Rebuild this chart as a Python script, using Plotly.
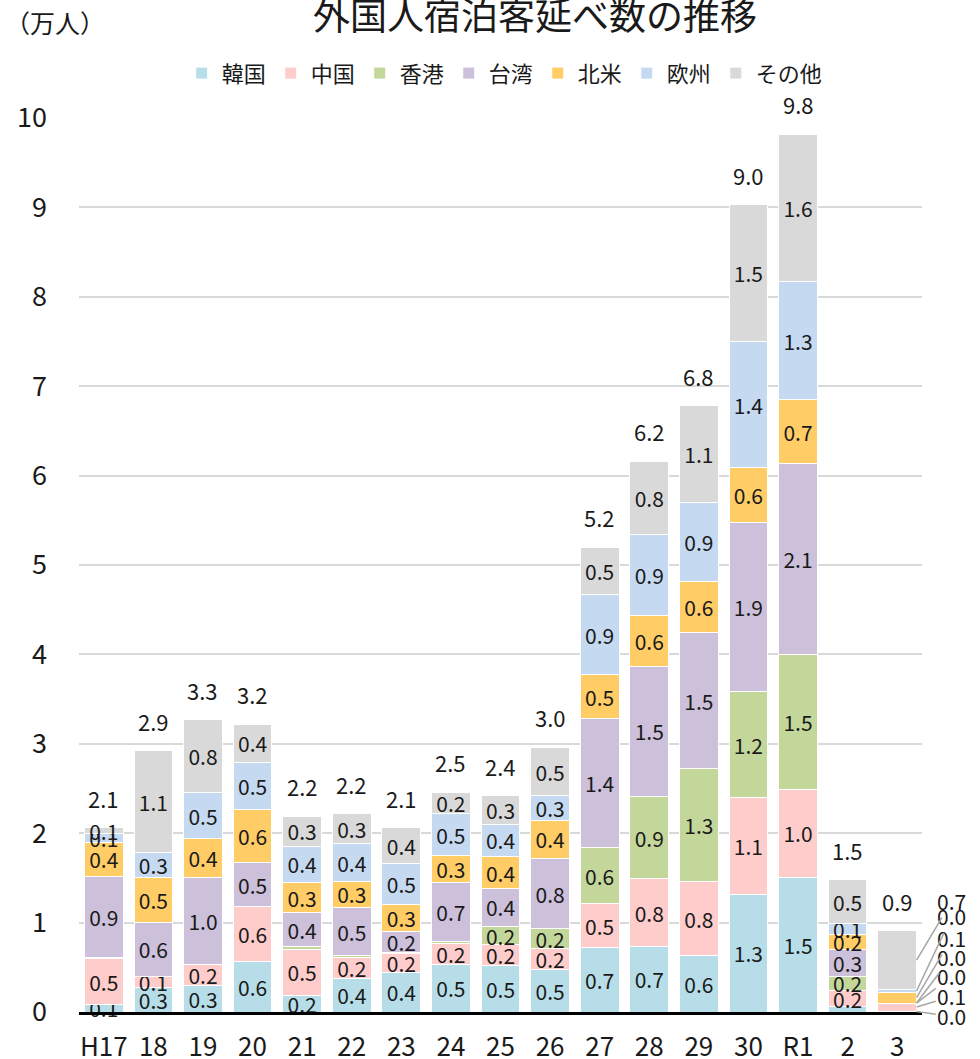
import plotly.graph_objects as go

# 年度（H17〜R3）
years = ["H17", "18", "19", "20", "21", "22", "23", "24", "25", "26",
         "27", "28", "29", "30", "R1", "2", "3"]

# 国・地域別 外国人宿泊客延べ数（万人）
korea = [0.08, 0.27, 0.30, 0.57, 0.19, 0.37, 0.44, 0.53, 0.52, 0.47,
         0.72, 0.73, 0.63, 1.31, 1.51, 0.06, 0.01]
china = [0.52, 0.13, 0.23, 0.61, 0.51, 0.24, 0.21, 0.24, 0.23, 0.24,
         0.49, 0.76, 0.83, 1.09, 0.98, 0.18, 0.09]
hongkong = [0.01, 0.00, 0.00, 0.00, 0.03, 0.02, 0.02, 0.02, 0.21, 0.22,
            0.63, 0.92, 1.26, 1.18, 1.51, 0.16, 0.00]
taiwan = [0.91, 0.60, 0.98, 0.49, 0.38, 0.54, 0.23, 0.66, 0.42, 0.79,
          1.44, 1.46, 1.52, 1.90, 2.13, 0.30, 0.00]
namerica = [0.38, 0.50, 0.43, 0.59, 0.34, 0.29, 0.30, 0.30, 0.36, 0.42,
            0.49, 0.57, 0.57, 0.61, 0.72, 0.17, 0.12]
europe = [0.10, 0.28, 0.51, 0.53, 0.40, 0.42, 0.46, 0.47, 0.36, 0.28,
          0.90, 0.90, 0.89, 1.41, 1.32, 0.12, 0.03]
other = [0.06, 1.14, 0.82, 0.43, 0.34, 0.34, 0.40, 0.24, 0.32, 0.54,
         0.53, 0.82, 1.08, 1.53, 1.65, 0.49, 0.66]

series = [
    ("韓国", korea, "#b7dee8"),
    ("中国", china, "#ffcccc"),
    ("香港", hongkong, "#c4d79b"),
    ("台湾", taiwan, "#ccc0da"),
    ("北米", namerica, "#ffcc66"),
    ("欧州", europe, "#c5d9f1"),
    ("その他", other, "#d9d9d9"),
]

FONT = "Noto Sans CJK JP"
INK = "#1a1a1a"
last = len(years) - 1

fig = go.Figure()
for name, vals, color in series:
    labels = []
    for i, v in enumerate(vals):
        if i == last or v < 0.05:
            labels.append("")
        elif i == last - 1 and name == "韓国":
            labels.append("")
        else:
            labels.append(f"{v:.1f}")
    fig.add_trace(go.Bar(
        x=years, y=vals, name=name,
        marker=dict(color=color, line=dict(color="white", width=1)),
        text=labels, textposition="inside", insidetextanchor="middle",
        textangle=0, textfont=dict(size=21, color=INK, family=FONT),
        cliponaxis=False,
    ))

totals = [sum(s[1][i] for s in series) for i in range(len(years))]
annotations = []
for i, t in enumerate(totals):
    annotations.append(dict(
        x=i, y=t, text=f"{t:.1f}", showarrow=False,
        yanchor="middle", yshift=30,
        font=dict(size=22, color=INK, family=FONT)))

# R2 韓国 label sits below the axis
annotations.append(dict(
    x=last - 1, y=-0.32, text=f"{korea[last - 1]:.1f}", showarrow=False,
    font=dict(size=21, color=INK, family=FONT)))

# R3 labels placed to the right with leader lines
label3_y = [-0.05, 0.175, 0.40, 0.62, 0.83, 1.07, 1.24]
base = 0
for (name, vals, color), ly in zip(series, label3_y):
    v = vals[last]
    annotations.append(dict(
        x=last + 0.39, y=base + v / 2, xref="x", yref="y",
        ax=last + 1.1, ay=ly, axref="x", ayref="y",
        text=f"{v:.1f}", showarrow=True, arrowhead=0, arrowwidth=1.5,
        arrowcolor="#a6a6a6", standoff=0,
        font=dict(size=21, color=INK, family=FONT)))
    base += v

annotations.append(dict(
    x=-0.0285, y=1.107, xref="paper", yref="paper", text="（万人）",
    showarrow=False, xanchor="center", yanchor="middle",
    font=dict(size=25, color=INK, family=FONT)))

fig.update_layout(
    width=980, height=1059, autosize=False,
    margin=dict(l=79, r=58, t=118, b=47, autoexpand=False),
    paper_bgcolor="white", plot_bgcolor="white",
    barmode="stack", bargap=0.22,
    font=dict(family=FONT, color=INK),
    title=dict(text="外国人宿泊客延べ数の推移", x=0.546, y=0.984,
               xanchor="center", yanchor="middle",
               font=dict(size=37, family=FONT, color=INK)),
    legend=dict(orientation="h", x=0.505, y=1.05, xanchor="center",
                yanchor="middle", font=dict(size=22, family=FONT),
                traceorder="normal"),
    uniformtext=dict(minsize=21, mode="show"),
    annotations=annotations,
    showlegend=True,
)
fig.update_xaxes(type="category", range=[-0.5, last + 0.5], showline=True,
                 linecolor="black", linewidth=3, ticks="", tickangle=0,
                 tickfont=dict(size=26), ticklabelstandoff=10,
                 automargin=False)
fig.update_yaxes(range=[0, 10], dtick=1, showgrid=True, gridcolor="#d9d9d9",
                 gridwidth=2, zeroline=False, tickfont=dict(size=27),
                 ticklabelstandoff=31, automargin=False)

# drop the default page margin so the chart sits at the window corner
fig.write_html("out.html",
               config={"displayModeBar": False},
               post_script="document.body.style.margin='0';"
                           "document.body.style.overflow='hidden';")
